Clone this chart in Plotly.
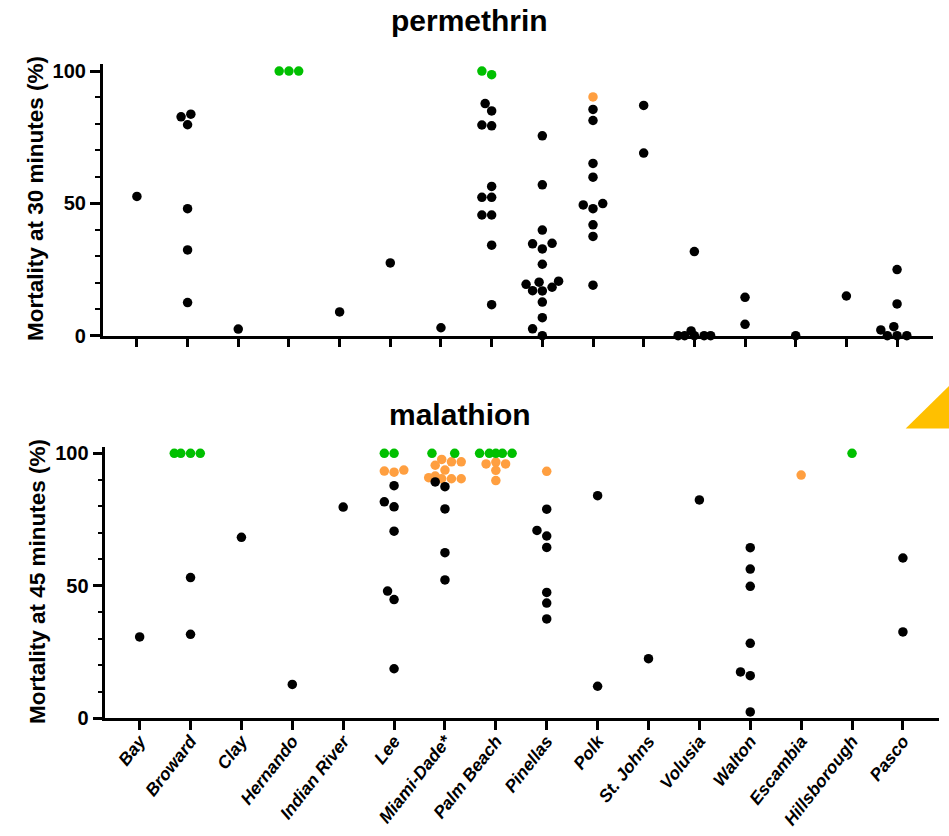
import numpy as np
import plotly.graph_objects as go

counties = ["Bay", "Broward", "Clay", "Hernando", "Indian River", "Lee", "Miami-Dade*",
            "Palm Beach", "Pinellas", "Polk", "St. Johns", "Volusia", "Walton",
            "Escambia", "Hillsborough", "Pasco"]

# ---- permethrin, mortality at 30 min (%) ----
perm_black = [
    [52.6],
    [83.7, 82.7, 79.7, 48.0, 32.4, 12.5],
    [2.5],
    [],
    [9.0],
    [27.5],
    [3.0],
    [87.7, 84.9, 79.6, 79.3, 56.4, 52.3, 52.3, 45.6, 45.6, 34.2, 11.7],
    [75.5, 57.0, 39.9, 34.9, 34.7, 32.8, 27.0, 20.6, 20.2, 19.4, 18.3, 17.0, 16.9, 12.7, 6.8, 2.6, 0],
    [85.5, 81.3, 65.1, 59.9, 49.9, 49.4, 48.0, 41.9, 37.5, 19.1],
    [87.0, 69.0],
    [31.8, 1.8, 0, 0, 0, 0, 0],
    [14.5, 4.3],
    [0],
    [15.0],
    [25.0, 12.0, 3.4, 2.2, 0, 0, 0],
]
perm_green = [[], [], [], [100, 100, 100], [], [], [], [100, 98.6], [], [], [], [], [], [], [], []]
perm_orange = [[], [], [], [], [], [], [], [], [], [90.2], [], [], [], [], [], []]

# ---- malathion, mortality at 45 min (%) ----
mala_black = [
    [30.7],
    [53.1, 31.7],
    [68.3],
    [12.8],
    [79.7],
    [87.8, 81.7, 79.8, 70.6, 48.0, 44.8, 18.7],
    [89.2, 87.4, 79.0, 62.5, 52.2],
    [],
    [78.9, 70.9, 68.8, 64.5, 47.5, 43.5, 37.5],
    [84.0, 12.1],
    [22.5],
    [82.4],
    [64.4, 56.3, 49.8, 28.3, 17.5, 16.1, 2.4],
    [],
    [],
    [60.5, 32.6],
]
mala_green = [[], [100, 100, 100, 100], [], [], [], [100, 100], [100, 100], [100, 100, 100, 100, 100],
              [], [], [], [], [], [], [100], []]
mala_orange = [[], [], [], [], [], [93.7, 93.3, 92.9],
               [97.7, 96.8, 96.8, 95.5, 93.7, 91.4, 90.8, 90.4, 90.4, 90.4],
               [96.7, 96.0, 96.0, 93.6, 89.7], [93.2], [], [], [], [], [91.8], [], []]

y_ticks = [0, 50, 100]

BLACK = "#000000"
GREEN = "#00C000"
ORANGE = "#FF9F40"
FONT = "Liberation Sans, Arial, sans-serif"

W, H = 949, 836
XR = [-0.675, 15.715]
YR = [0, 102.5]
TOP = dict(x0=102.7, x1=933.3, y0=64.4, y1=335.7)
BOT = dict(x0=105.3, x1=939.3, y0=446.7, y1=718.3)
MS = 9.5


def swarm(groups, pxx, pxy, d=9.5, step=3.25, nmax=5):
    pts = [(v, gi, k) for gi, vals in enumerate(groups) for k, v in enumerate(vals)]
    order = sorted(range(len(pts)), key=lambda i: pts[i][0])
    cands = [0.0] + [s * i * step for i in range(1, nmax + 1) for s in (-1, 1)]
    placed = []
    offs = [[0.0] * len(g) for g in groups]
    for i in order:
        v, gi, k = pts[i]
        y = v * pxy
        best, bestd = None, -1
        for c in cands:
            md = min([np.hypot(c - px, y - py) for px, py in placed], default=1e9)
            if md >= d:
                best = c
                break
            if md > bestd + 1e-9:
                bestd, best = md, c
        placed.append((best, y))
        offs[gi][k] = best / pxx
    return offs


fig = go.Figure()


def add_panel(black, green, orange, geo, xa, ya):
    pxx = (geo["x1"] - geo["x0"]) / (XR[1] - XR[0])
    pxy = (geo["y1"] - geo["y0"]) / (YR[1] - YR[0])
    series = {"orange": ([], []), "green": ([], []), "black": ([], [])}
    for ci in range(len(counties)):
        groups = [orange[ci], green[ci], black[ci]]
        offs = swarm(groups, pxx, pxy)
        for name, vals, of in zip(["orange", "green", "black"], groups, offs):
            for v, o in zip(vals, of):
                series[name][0].append(ci + o)
                series[name][1].append(v)
    for name, col in [("orange", ORANGE), ("green", GREEN), ("black", BLACK)]:
        xs, ys = series[name]
        fig.add_trace(go.Scatter(x=xs, y=ys, mode="markers", xaxis=xa, yaxis=ya,
                                 marker=dict(size=MS, color=col, line=dict(width=0)),
                                 cliponaxis=False, showlegend=False, hoverinfo="skip"))


add_panel(perm_black, perm_green, perm_orange, TOP, "x", "y")
add_panel(mala_black, mala_green, mala_orange, BOT, "x2", "y2")


def xdom(g):
    return [g["x0"] / W, g["x1"] / W]


def ydom(g):
    return [1 - g["y1"] / H, 1 - g["y0"] / H]


def px(x):
    return x / W


def py(y):
    return 1 - y / H


common_x = dict(range=XR, showline=True, linewidth=2.5, linecolor="black", ticks="outside",
                ticklen=9, tickwidth=2.5, tickcolor="black", tickvals=list(range(len(counties))),
                showgrid=False, zeroline=False, automargin=False, fixedrange=True)
common_y = dict(range=YR, showline=True, linewidth=2.5, linecolor="black", ticks="outside",
                ticklen=10, tickwidth=2.5, tickcolor="black", tickvals=y_ticks,
                ticktext=[str(t) for t in y_ticks],
                tickfont=dict(family=FONT, size=20, color="black", weight="bold"),
                minor=dict(dtick=10, ticks="outside", ticklen=5, tickwidth=2, tickcolor="black",
                           showgrid=False),
                showgrid=False, zeroline=False, automargin=False, fixedrange=True)

fig.update_layout(
    width=W, height=H,
    margin=dict(l=0, r=0, t=0, b=0),
    paper_bgcolor="white", plot_bgcolor="white",
    xaxis=dict(domain=xdom(TOP), anchor="y", showticklabels=False, **common_x),
    yaxis=dict(domain=ydom(TOP), anchor="x", **common_y),
    xaxis2=dict(domain=xdom(BOT), anchor="y2", showticklabels=True, ticktext=counties,
                tickangle=-52, ticklabelstandoff=-6,
                tickfont=dict(family=FONT, size=17.5, color="black", weight="bold", style="italic"),
                **common_x),
    yaxis2=dict(domain=ydom(BOT), anchor="x2", **common_y),
    annotations=[
        dict(text="permethrin", x=px(469.5), y=py(20), xref="paper", yref="paper",
             xanchor="center", yanchor="middle", showarrow=False,
             font=dict(family=FONT, size=30, color="black", weight="bold")),
        dict(text="malathion", x=px(459.5), y=py(414), xref="paper", yref="paper",
             xanchor="center", yanchor="middle", showarrow=False,
             font=dict(family=FONT, size=30, color="black", weight="bold")),
        dict(text="Mortality at 30 minutes (%)", x=px(35), y=py(199), xref="paper",
             yref="paper", xanchor="center", yanchor="middle", textangle=-90, showarrow=False,
             font=dict(family=FONT, size=22.5, color="black", weight="bold")),
        dict(text="Mortality at 45 minutes (%)", x=px(37), y=py(582), xref="paper",
             yref="paper", xanchor="center", yanchor="middle", textangle=-90, showarrow=False,
             font=dict(family=FONT, size=22.5, color="black", weight="bold")),
    ],
    shapes=[dict(type="path", xref="paper", yref="paper",
                 path=f"M {px(905.7)},{py(428.5)} L {px(949)},{py(428.5)} L {px(949)},{py(386)} Z",
                 fillcolor="#FFC000", line=dict(width=0))],
)

fig.write_html("out.html", config={"displayModeBar": False},
               post_script="document.body.style.margin='0';document.body.style.overflow='hidden';")
